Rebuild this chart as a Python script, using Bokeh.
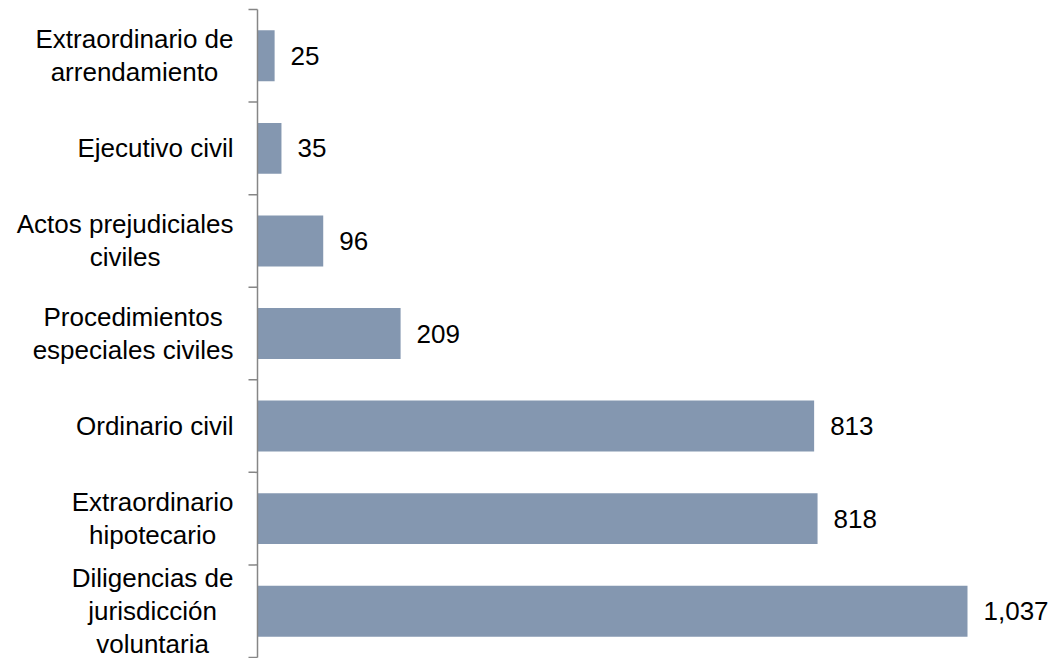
from bokeh.plotting import figure
from bokeh.models import Range1d, ColumnDataSource
from bokeh.core.properties import value
from bokeh.embed import file_html
from bokeh.resources import INLINE

# Data (top to bottom as in the chart)
categories = [
    "Extraordinario de\narrendamiento",
    "Ejecutivo civil",
    "Actos prejudiciales\nciviles",
    "Procedimientos\nespeciales civiles",
    "Ordinario civil",
    "Extraordinario\nhipotecario",
    "Diligencias de\njurisdicción\nvoluntaria",
]
values = [25, 35, 96, 209, 813, 818, 1037]

FONT = "Liberation Sans"
BAR_COLOR = "#8497B0"
AXIS_COLOR = "#868686"

W, H = 1054, 658
axis_px = 257          # axis distance from left edge of the figure
longest_px = 710       # pixel length of the longest bar
top_px, bottom_px = 9, 1
k = longest_px / max(values)
x0 = -axis_px / k
x1 = x0 + W / k

n = len(categories)
unit = (H - top_px - bottom_px) / n
y_start = -0.5 - bottom_px / unit
y_end = n - 0.5 + top_px / unit

pos = [n - 1 - i for i in range(n)]
src = ColumnDataSource(dict(
    cat=categories,
    val=values,
    pos=pos,
    lab=[f"{v:,}" for v in values],
))

p = figure(width=W, height=H, x_range=Range1d(x0, x1), y_range=Range1d(y_start, y_end),
           output_backend="svg", toolbar_location=None,
           x_axis_location=None, y_axis_location=None, min_border=0)
p.grid.visible = False
p.outline_line_color = None
p.background_fill_color = "white"
p.border_fill_color = "white"

p.hbar(y="pos", left=0, right="val", height=0.55, source=src,
       fill_color=BAR_COLOR, line_color=None)

# axis line and ticks at category boundaries
bounds = [i - 0.5 for i in range(n + 1)]
p.segment(x0=[0], y0=[bounds[0]], x1=[0], y1=[bounds[-1]],
          line_color=AXIS_COLOR, line_width=1.5)
tick_len = 9 / k
p.segment(x0=[-tick_len] * len(bounds), y0=bounds, x1=[0] * len(bounds), y1=bounds,
          line_color=AXIS_COLOR, line_width=1.5)

# category labels
p.text(x=0, y="pos", text="cat", source=src, x_offset=-24,
       text_align="center", text_baseline="middle", anchor=value("center_right"),
       text_font=value(FONT), text_font_size="26px", text_color="black",
       text_line_height=1.1)

# value labels
p.text(x="val", y="pos", text="lab", source=src, x_offset=16,
       text_align="left", text_baseline="middle",
       text_font=value(FONT), text_font_size="26px", text_color="black")

open("out.html", "w").write(file_html(p, INLINE))
